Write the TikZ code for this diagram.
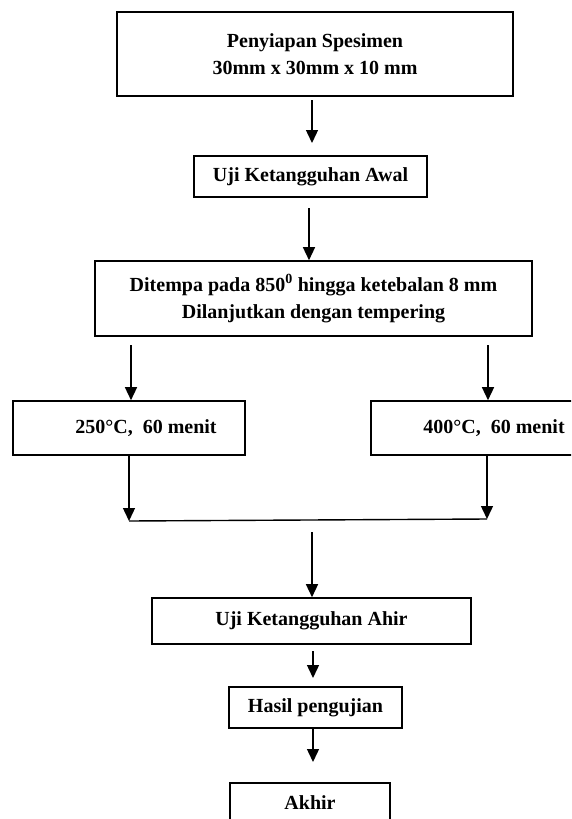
\documentclass[tikz,border=0pt]{standalone}
\usepackage{fontspec}
\setmainfont{Liberation Serif}
\usetikzlibrary{arrows.meta}
\begin{document}
\begin{tikzpicture}[x=1pt,y=1pt,
  box/.style={draw=black, line width=1.6pt, inner sep=0pt, align=center,
    font=\bfseries\fontsize{20}{27}\selectfont},
  arr/.style={draw=black, line width=1.4pt, -{Triangle[length=13pt,width=12pt]}},
  ln/.style={draw=black, line width=1.4pt}]
\useasboundingbox (0,0) rectangle (571,-819);
\clip (0,0) rectangle (571,-819);
\node[box, minimum width=396, minimum height=84] (b1) at (315,-54) {Penyiapan Spesimen\\30mm x 30mm x 10 mm};
\node[box, minimum width=233, minimum height=41] (b2) at (310.5,-176.5) {Uji Ketangguhan Awal};
\node[box, minimum width=437, minimum height=75] (b3) at (313.5,-298.5) {Ditempa pada 850\textsuperscript{0} hingga ketebalan 8 mm\\Dilanjutkan dengan tempering};
\node[box, minimum width=232, minimum height=54] (bl) at (129,-428) {\hspace*{34pt}250°C,\ \ 60 menit};
\node[box, minimum width=246, minimum height=54] (br) at (494,-428) {400°C,\ \ 60 menit};
\node[box, minimum width=319, minimum height=46] (b4) at (311.5,-621) {Uji Ketangguhan Ahir};
\node[box, minimum width=173, minimum height=41] (b5) at (315.5,-707.5) {Hasil pengujian};
\node[box, minimum width=160, minimum height=40] (b6) at (310,-803) {Akhir};
% connector coordinates
\coordinate (a1s) at (312,-100);
\coordinate (a1e) at (312,-143);
\coordinate (a2s) at (309,-208);
\coordinate (a3s) at (131,-345);
\coordinate (a4s) at (488,-345);
\coordinate (jl) at (129,-521);
\coordinate (jr) at (487,-519);
\coordinate (a7s) at (312,-532);
\coordinate (a8s) at (313,-651);
\coordinate (a8e) at (313,-678);
\coordinate (a9e) at (313,-762);
\draw[arr] (a1s) -- (a1e);
\draw[arr] (a2s) -- (a2s |- b3.north);
\draw[arr] (a3s) -- (a3s |- bl.north);
\draw[arr] (a4s) -- (a4s |- br.north);
\draw[arr] (jl |- bl.south) -- (jl);
\draw[arr] (jr |- br.south) -- (jr);
\draw[ln] (jl) -- (jr);
\draw[arr] (a7s) -- (a7s |- b4.north);
\draw[arr] (a8s) -- (a8e);
\draw[arr] (a9e |- b5.south) -- (a9e);
\end{tikzpicture}
\end{document}
